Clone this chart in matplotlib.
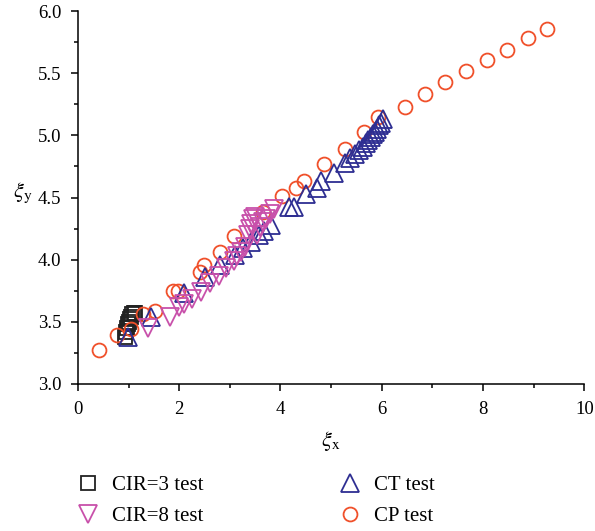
import numpy as np
import matplotlib.pyplot as plt
from matplotlib.ticker import MultipleLocator

plt.rcParams['font.family'] = ['Liberation Serif', 'DejaVu Serif']
plt.rcParams['mathtext.fontset'] = 'stix'

# CIR=3 test
cir3_x = [0.92, 0.94, 0.96, 0.98, 1.00, 1.02, 1.04, 1.07, 1.10, 1.13]
cir3_y = [3.38, 3.42, 3.45, 3.48, 3.50, 3.52, 3.54, 3.56, 3.57, 3.57]

# CIR=8 test
cir8_x = [1.38, 1.81, 2.00, 2.10, 2.26, 2.43, 2.60, 2.79, 2.93, 3.08, 3.15, 3.22,
          3.30, 3.36, 3.39, 3.42, 3.45, 3.50, 3.54, 3.60, 3.66, 3.72, 3.80, 3.87]
cir8_y = [3.45, 3.54, 3.62, 3.64, 3.68, 3.74, 3.81, 3.87, 3.93, 3.99, 4.03, 4.06,
          4.10, 4.20, 4.25, 4.29, 4.33, 4.34, 4.20, 4.26, 4.30, 4.33, 4.37, 4.41]

# CT test
ct_x = [0.98, 1.45, 2.10, 2.50, 2.80, 3.10, 3.25, 3.42, 3.58, 3.67, 3.81, 4.17,
        4.27, 4.50, 4.72, 4.80, 5.05, 5.28, 5.38, 5.48, 5.56, 5.62, 5.68, 5.73,
        5.78, 5.82, 5.86, 5.90, 5.94, 5.98, 6.03]
ct_y = [3.38, 3.54, 3.73, 3.86, 3.96, 4.04, 4.09, 4.14, 4.20, 4.23, 4.28, 4.42,
        4.42, 4.53, 4.58, 4.63, 4.70, 4.78, 4.82, 4.85, 4.88, 4.91, 4.94, 4.96,
        4.99, 5.01, 5.03, 5.05, 5.08, 5.10, 5.13]

# CP test
cp_x = [0.41, 0.77, 1.05, 1.28, 1.53, 1.88, 1.98, 2.42, 2.48, 2.81, 3.08, 3.65,
        4.03, 4.30, 4.46, 4.85, 5.28, 5.64, 5.93, 6.46, 6.86, 7.25, 7.66, 8.07,
        8.47, 8.88, 9.27]
cp_y = [3.27, 3.39, 3.44, 3.56, 3.59, 3.75, 3.75, 3.90, 3.96, 4.06, 4.19, 4.38,
        4.51, 4.58, 4.63, 4.77, 4.89, 5.03, 5.15, 5.23, 5.33, 5.43, 5.52, 5.61,
        5.69, 5.78, 5.86]

fig = plt.figure(figsize=(5.95, 5.31), dpi=100)
ax = fig.add_axes([0.131, 0.277, 0.851, 0.702])

mk = dict(linestyle='none', markerfacecolor='none', markeredgewidth=1.3)
ax.plot(cir3_x, cir3_y, marker='s', ms=10, markeredgecolor='#222222', label='CIR=3 test', zorder=2, **mk)
ax.plot(cp_x, cp_y, marker='o', ms=10, markeredgecolor='#f0502a', label='CP test', zorder=3, **mk)
ax.plot(ct_x, ct_y, marker='^', ms=12.5, markeredgecolor='#2e2e92', label='CT test', zorder=4, **mk)
ax.plot(cir8_x, cir8_y, marker='v', ms=12.5, markeredgecolor='#c850aa', label='CIR=8 test', zorder=5, **mk)

ax.set_xlim(0, 10)
ax.set_ylim(3.0, 6.0)
ax.xaxis.set_major_locator(MultipleLocator(2))
ax.xaxis.set_minor_locator(MultipleLocator(1))
ax.yaxis.set_major_locator(MultipleLocator(0.5))
ax.yaxis.set_minor_locator(MultipleLocator(0.25))
ax.yaxis.set_major_formatter(plt.FormatStrFormatter('%.1f'))
ax.spines['top'].set_visible(False)
ax.spines['right'].set_visible(False)
for s in ['left', 'bottom']:
    ax.spines[s].set_linewidth(1.1)
ax.tick_params(which='major', direction='out', length=5, width=1.1, labelsize=13.5, pad=7)
ax.tick_params(which='minor', direction='out', length=3, width=1.1)

ax.set_xlabel(r'$\xi_{\mathrm{x}}$', fontsize=16, labelpad=8)
ax.set_ylabel(r'$\xi_{\mathrm{y}}$', fontsize=16, rotation=0)
ax.yaxis.set_label_coords(-0.11, 0.48)

h, l = ax.get_legend_handles_labels()
order = [0, 3, 2, 1]
fig.legend([h[i] for i in order], [l[i] for i in order], ncol=2, frameon=False,
           loc='upper left', bbox_to_anchor=(0.09, 0.14), fontsize=15,
           columnspacing=6.3, handletextpad=0.4, handlelength=1.5, labelspacing=0.55)

fig.savefig('out.png', dpi=100)
